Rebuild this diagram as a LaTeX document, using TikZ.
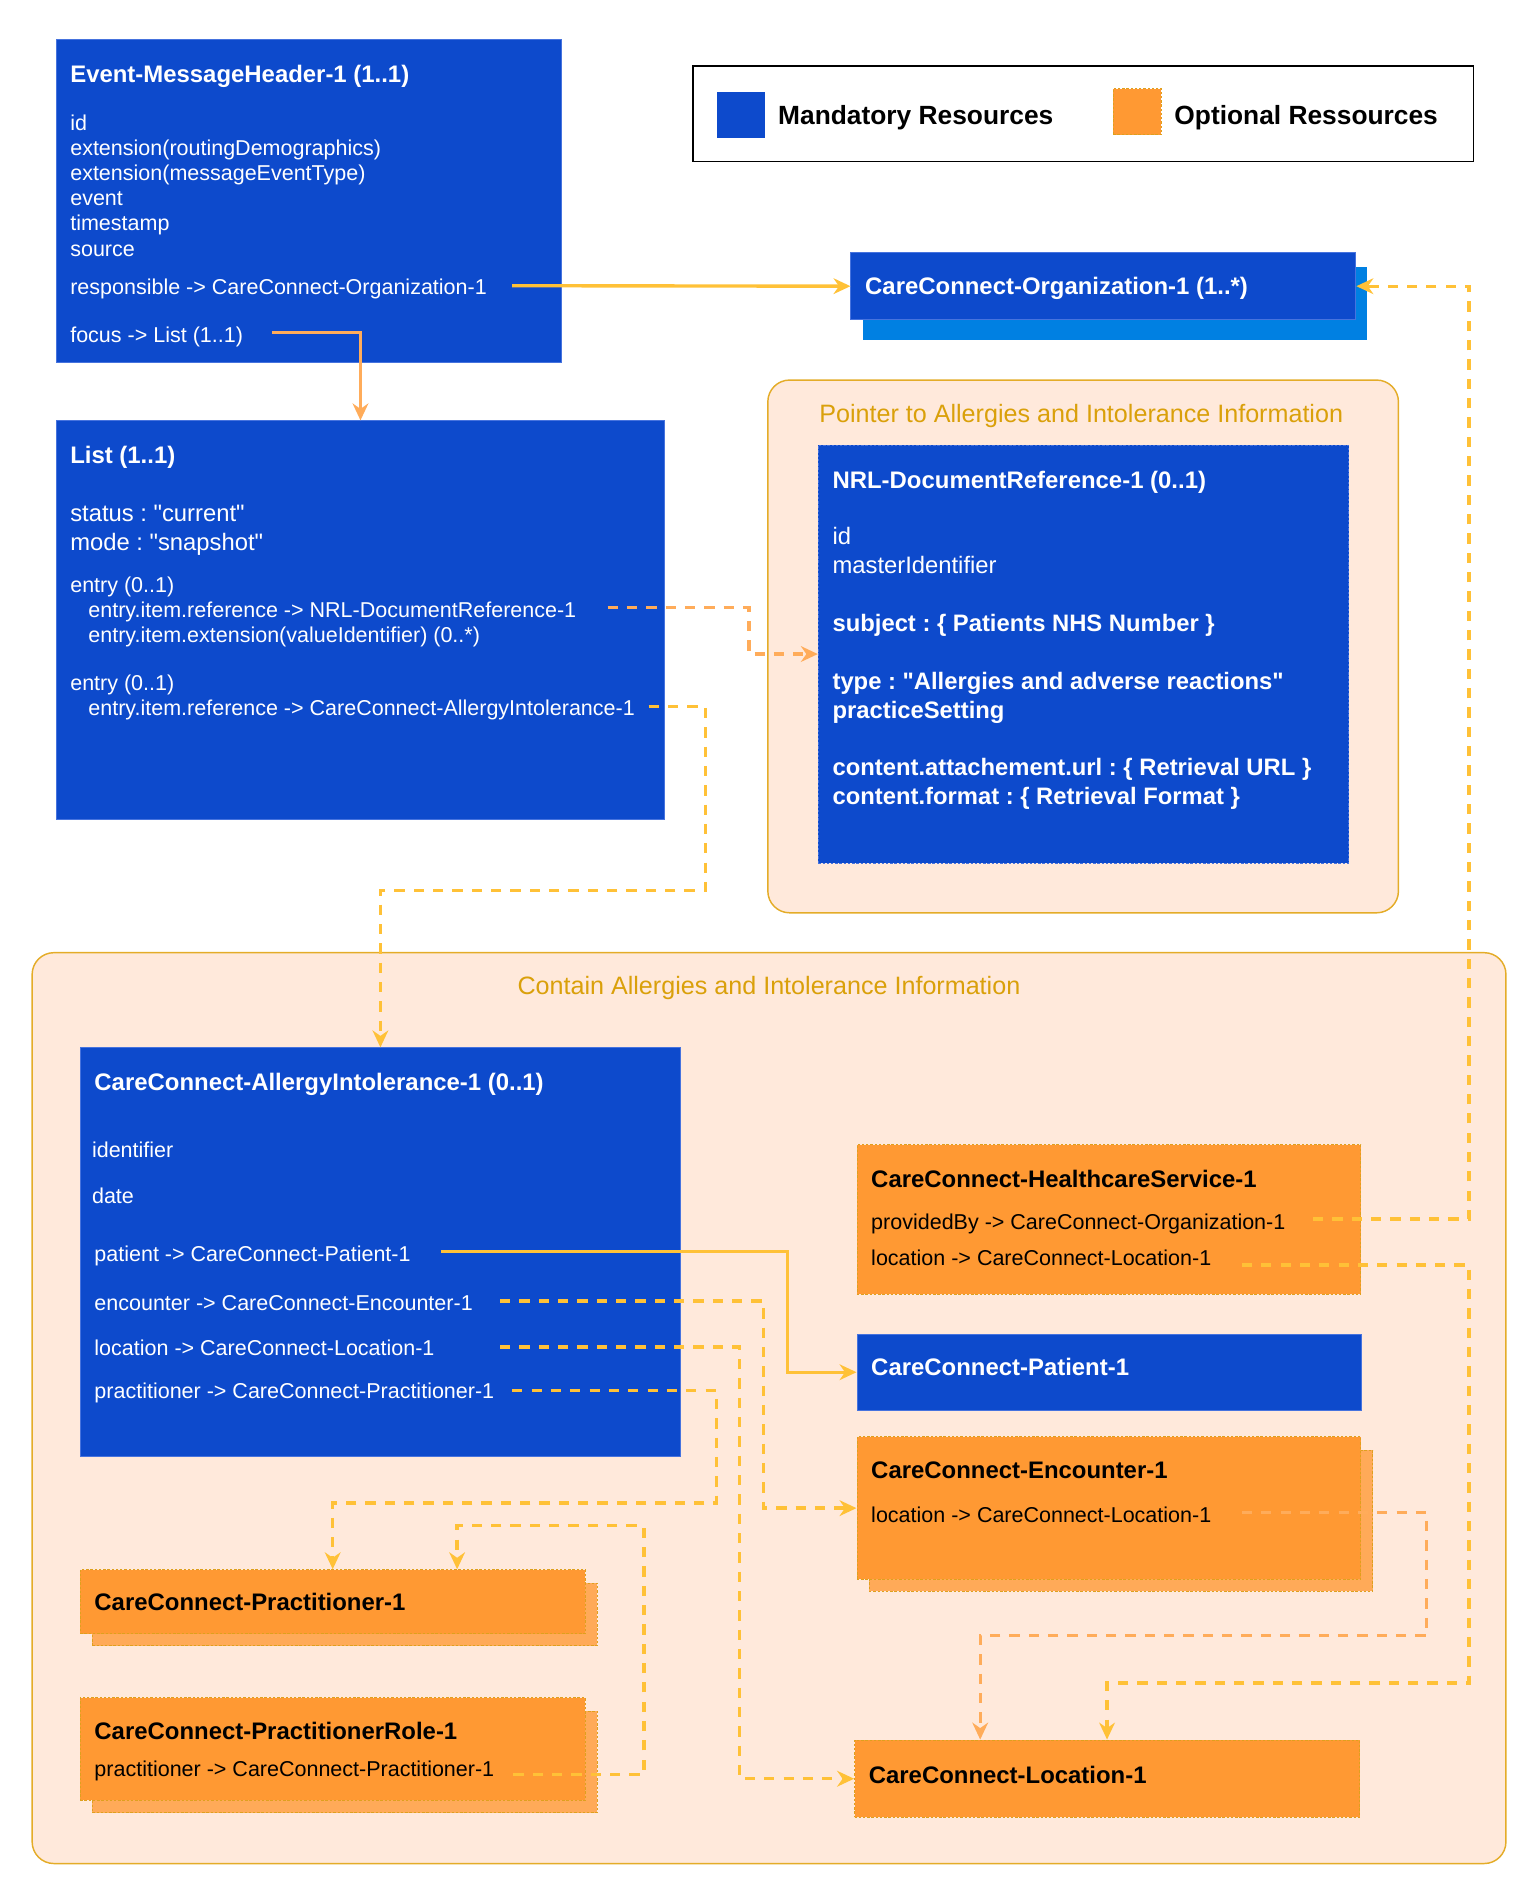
\documentclass[tikz,border=0pt]{standalone}
\usepackage{fontspec}
\setmainfont{Liberation Sans}
\usetikzlibrary{arrows.meta}
\definecolor{mandblue}{RGB}{13,74,204}
\definecolor{mandline}{RGB}{70,115,222}
\definecolor{orgshade}{RGB}{0,128,226}
\definecolor{optorange}{RGB}{255,153,51}
\definecolor{optshade}{RGB}{255,170,88}
\definecolor{optline}{RGB}{222,160,30}
\definecolor{grpfill}{RGB}{255,233,219}
\definecolor{grpline}{RGB}{228,172,40}
\definecolor{grptext}{RGB}{218,160,10}
\definecolor{linkyel}{RGB}{255,193,55}
\definecolor{linkora}{RGB}{255,172,90}
\frenchspacing
\begin{document}
\begin{tikzpicture}[x=1pt,y=-1pt,
  mand/.style={draw=mandline, line width=0.8pt, fill=mandblue, anchor=north west, inner sep=0},
  mandd/.style={mand, dash pattern=on 2pt off 1.5pt},
  opt/.style={draw=optline, line width=0.8pt, dash pattern=on 2pt off 1.5pt, fill=optorange, anchor=north west, inner sep=0},
  optsh/.style={opt, fill=optshade},
  grp/.style={draw=grpline, line width=1.2pt, fill=grpfill, rounded corners=18pt, anchor=north west, inner sep=0},
  body/.style={anchor=base west, inner sep=0, font=\fontsize{17.8}{20}\selectfont},
  mid/.style={anchor=base west, inner sep=0, font=\fontsize{19.7}{22}\selectfont},
  midb/.style={mid, font=\fontsize{19.7}{22}\selectfont\bfseries},
  ttl/.style={anchor=base west, inner sep=0, font=\fontsize{19.8}{22}\selectfont\bfseries},
  grpt/.style={anchor=base, inner sep=0, text=grptext, font=\fontsize{20.8}{23}\selectfont},
  legt/.style={anchor=base west, inner sep=0, font=\fontsize{21.8}{24}\selectfont\bfseries},
  link/.style={draw=linkyel, line width=2.8pt, -{Stealth[length=14pt,width=13pt,inset=4.5pt]}},
  dlink/.style={link, dash pattern=on 8.5pt off 7.5pt},
  olink/.style={dlink, draw=linkora},
]
\useasboundingbox (0,0) rectangle (1266.6,1567);
\node[grp, minimum width=522, minimum height=441] (ptr) at (635,314){};
\node[grpt] (ptrt) at (895,349.5){Pointer to Allergies and Intolerance Information};
\node[grp, minimum width=1220, minimum height=754] (cnt) at (26,788){};
\node[grpt] (cntt) at (636.5,823.5){Contain Allergies and Intolerance Information};

\node[draw=black, line width=1.2pt, minimum width=646, minimum height=79, anchor=north west, inner sep=0] (leg) at (573,54){};
\node[fill=mandblue, minimum width=40, minimum height=38, anchor=north west, inner sep=0] (legm) at (593,76){};
\node[legt] (legmt) at (644,102.8){Mandatory Resources};
\node[opt, minimum width=40, minimum height=38] (lego) at (921,73){};
\node[legt] (legot) at (972,102.8){Optional Ressources};

\node[mand, minimum width=418, minimum height=268] (hdr) at (46,32){};
\node[ttl, text=white] (hdrt) at (58,68){Event-MessageHeader-1 (1..1)};
\node[body, text=white] (hdr1) at (58,108){id};
\node[body, text=white] (hdr2) at (58,128.8){extension(routingDemographics)};
\node[body, text=white] (hdr3) at (58,149.6){extension(messageEventType)};
\node[body, text=white] (hdr4) at (58,170.4){event};
\node[body, text=white] (hdr5) at (58,191.2){timestamp};
\node[body, text=white] (hdr6) at (58,212){source};
\node[body, text=white] (hdr7) at (58,243.4){responsible -> CareConnect-Organization-1};
\node[body, text=white] (hdr8) at (58,283.2){focus -> List (1..1)};

\node[mand, draw=orgshade, fill=orgshade, minimum width=417, minimum height=60] (orgsh) at (714,221){};
\node[mand, minimum width=418, minimum height=55] (org) at (704,209){};
\node[ttl, text=white] (orgt) at (716,244){CareConnect-Organization-1 (1..*)};

\node[mand, minimum width=504, minimum height=330] (lst) at (46,348){};
\node[ttl, text=white] (lstt) at (58,384){List (1..1)};
\node[mid, text=white] (lst1) at (58,432){status : \textquotedbl current\textquotedbl};
\node[mid, text=white] (lst2) at (58,456){mode : \textquotedbl snapshot\textquotedbl};
\node[body, text=white] (lst3) at (58,490.6){entry (0..1)};
\node[body, text=white] (lst4) at (73,510.8){entry.item.reference -> NRL-DocumentReference-1};
\node[body, text=white] (lst5) at (73,531.6){entry.item.extension(valueIdentifier) (0..*)};
\node[body, text=white] (lst6) at (58,571.4){entry (0..1)};
\node[body, text=white] (lst7) at (73,592){entry.item.reference -> CareConnect-AllergyIntolerance-1};

\node[mandd, minimum width=439, minimum height=346] (nrl) at (677,368){};
\node[ttl, text=white] (nrlt) at (689,404){NRL-DocumentReference-1 (0..1)};
\node[mid, text=white] (nrl1) at (689,451.1){id};
\node[mid, text=white] (nrl2) at (689,475.1){masterIdentifier};
\node[midb, text=white] (nrl3) at (689,523.1){subject : \{ Patients NHS Number \}};
\node[midb, text=white] (nrl4) at (689,571.1){type : \textquotedbl Allergies and adverse reactions\textquotedbl};
\node[midb, text=white] (nrl5) at (689,595.1){practiceSetting};
\node[midb, text=white] (nrl6) at (689,642.1){content.attachement.url : \{ Retrieval URL \}};
\node[midb, text=white] (nrl7) at (689,666.1){content.format : \{ Retrieval Format \}};

\node[mand, minimum width=497, minimum height=338] (all) at (66,867){};
\node[ttl, text=white] (allt) at (78,903){CareConnect-AllergyIntolerance-1 (0..1)};
\node[body, text=white] (all1) at (76,958.4){identifier};
\node[body, text=white] (all2) at (76,996.4){date};
\node[body, text=white] (all3) at (78,1044.4){patient -> CareConnect-Patient-1};
\node[body, text=white] (all4) at (78,1084.4){encounter -> CareConnect-Encounter-1};
\node[body, text=white] (all5) at (78,1122.4){location -> CareConnect-Location-1};
\node[body, text=white] (all6) at (78,1157.4){practitioner -> CareConnect-Practitioner-1};

\node[opt, minimum width=417, minimum height=124] (hs) at (709,947){};
\node[ttl] (hst) at (721,983){CareConnect-HealthcareService-1};
\node[body] (hs1) at (721,1017.4){providedBy -> CareConnect-Organization-1};
\node[body] (hs2) at (721,1047.4){location -> CareConnect-Location-1};

\node[mand, minimum width=418, minimum height=63] (pat) at (709,1104){};
\node[ttl, text=white] (patt) at (721,1139){CareConnect-Patient-1};

\node[optsh, minimum width=417, minimum height=117] (encsh) at (719,1200){};
\node[opt, minimum width=417, minimum height=118] (enc) at (709,1189){};
\node[ttl] (enct) at (721,1224){CareConnect-Encounter-1};
\node[body] (enc1) at (721,1260.4){location -> CareConnect-Location-1};

\node[optsh, minimum width=418, minimum height=52] (prcsh) at (76,1310){};
\node[opt, minimum width=418, minimum height=53] (prc) at (66,1299){};
\node[ttl] (prct) at (78,1333){CareConnect-Practitioner-1};

\node[optsh, minimum width=418, minimum height=84] (prrsh) at (76,1416){};
\node[opt, minimum width=418, minimum height=85] (prr) at (66,1405){};
\node[ttl] (prrt) at (78,1440){CareConnect-PractitionerRole-1};
\node[body] (prr1) at (78,1470.4){practitioner -> CareConnect-Practitioner-1};

\node[opt, minimum width=418, minimum height=64] (loc) at (707,1440){};
\node[ttl] (loct) at (719,1476){CareConnect-Location-1};

\coordinate (rsp) at (424,236.5);
\coordinate (fcs) at (225,275);
\coordinate (nrs) at (503,503);
\coordinate (als) at (537,585);
\coordinate (pas) at (365,1036);
\coordinate (ens) at (414,1077);
\coordinate (los) at (414,1115);
\coordinate (prs) at (424,1151);
\coordinate (prrs) at (425,1469);
\coordinate (pbs) at (1087,1009);
\coordinate (hls) at (1028,1047);
\coordinate (els) at (1028,1252);
\draw[link](rsp) -- (org.west);
\draw[link, draw=linkora](fcs) -| (lst.north);
\draw[olink](nrs) -- ++(117,0) |- (nrl.west);
\draw[dlink](als) -- ++(47,0) -- ++(0,152) -| (all.north);
\draw[link](pas) -- ++(287,0) |- (pat.west);
\draw[dlink](ens) -- ++(218,0) |- (enc.west);
\draw[dlink](los) -- ++(198,0) |- (loc.west);
\draw[dlink](prs) -- ++(169,0) -- ++(0,93) -| (prc.north);
\draw[dlink](prrs) -- ++(108,0) -- ++(0,-206) -| ([xshift=103pt]prc.north);
\draw[dlink](pbs) -- ++(129,0) |- (org.east);
\draw[dlink](hls) -- ++(188,0) -- ++(0,346) -| (loc.north);
\draw[olink](els) -- ++(153,0) -- ++(0,102) -| ([xshift=-105pt]loc.north);
\end{tikzpicture}
\end{document}
